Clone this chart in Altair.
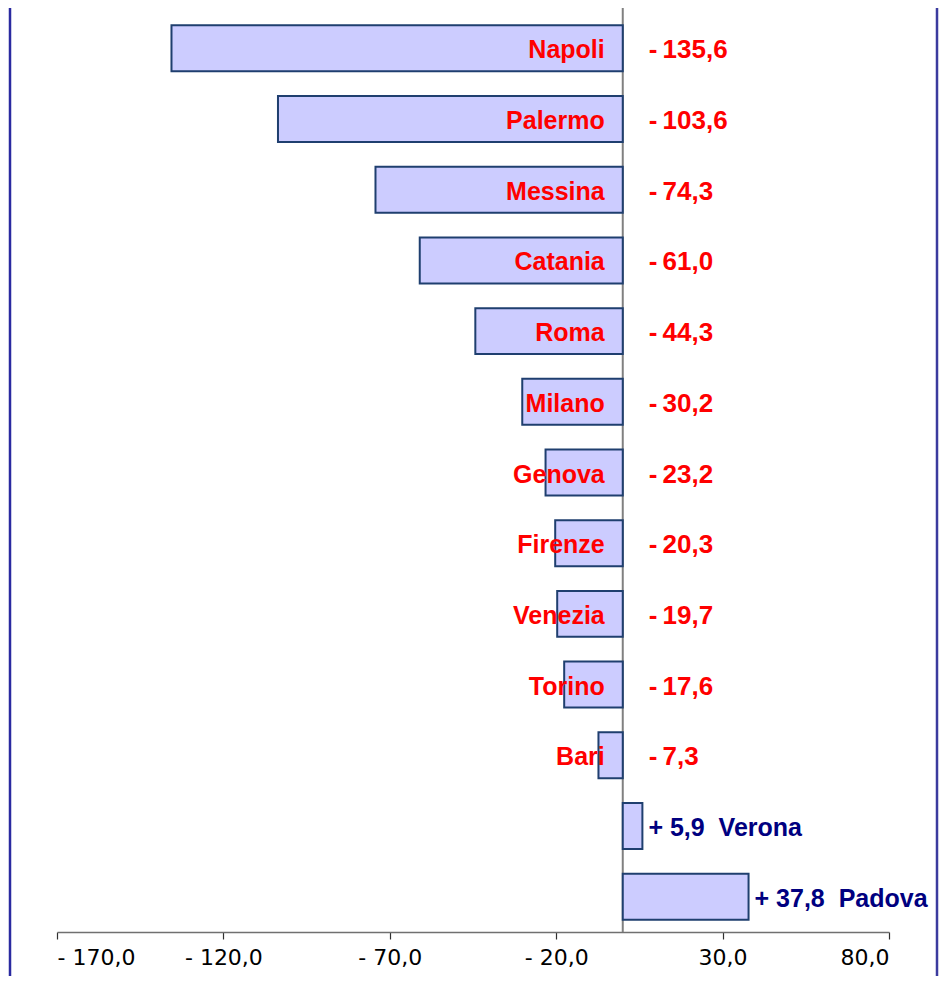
import altair as alt
import pandas as pd

cities = ["Napoli", "Palermo", "Messina", "Catania", "Roma", "Milano", "Genova",
          "Firenze", "Venezia", "Torino", "Bari", "Verona", "Padova"]
values = [-135.6, -103.6, -74.3, -61.0, -44.3, -30.2, -23.2, -20.3, -19.7, -17.6, -7.3, 5.9, 37.8]
x_ticks = [-170, -120, -70, -20, 30, 80]


def num(v):
    return f"{abs(v):.1f}".replace(".", ",")


neg_labels = [("-\u2009" + num(v)) if v < 0 else "" for v in values]
pos_labels = [(f"+\u00a0{num(v)}\u00a0\u00a0{c}") if v > 0 else "" for c, v in zip(cities, values)]

df = pd.DataFrame({"city": cities, "value": values,
                   "neg_label": neg_labels, "pos_label": pos_labels})

W, H = 832, 919

x_scale = alt.Scale(domain=[-170, 80], nice=False, zero=False)
y_enc = alt.Y("city:N", sort=None, axis=None,
              scale=alt.Scale(paddingInner=0.35, paddingOuter=0.175))

base = alt.Chart(df)

zero_line = alt.Chart(pd.DataFrame({"z": [0]})).mark_rule(color="#808080", strokeWidth=2).encode(
    x=alt.X("z:Q", scale=x_scale),
    y=alt.value(-6),
    y2=alt.value(H),
)

border_l = alt.Chart(pd.DataFrame({"b": [0]})).mark_rule(color="#2a2aa0", strokeWidth=2.5).encode(
    x=alt.value(-47),
    y=alt.value(-6),
    y2=alt.value(H + 50),
)
border_r = alt.Chart(pd.DataFrame({"b": [0]})).mark_rule(color="#3b3b9e", strokeWidth=2.5).encode(
    x=alt.value(880),
    y=alt.value(-6),
    y2=alt.value(H + 50),
)

bars = base.mark_bar(fill="#CCCCFF", stroke="#1F3F6F", strokeWidth=2).encode(
    x=alt.X("value:Q", scale=x_scale,
            axis=alt.Axis(values=x_ticks, title=None, grid=False,
                          domainColor="#707070", domainWidth=1.5,
                          tickColor="#303030", tickSize=7, tickWidth=1.2,
                          labelFont="DejaVu Sans", labelFontSize=22, labelColor="#000000",
                          labelPadding=8,
                          labelExpr="datum.value < 0 ? '- ' + replace(format(abs(datum.value), '.1f'), '.', ',') : replace(format(datum.value, '.1f'), '.', ',')")),
    x2=alt.datum(0),
    y=y_enc,
)

neg = base.transform_filter("datum.value < 0")

names = neg.mark_text(align="right", baseline="middle", dx=-18, dy=2, font="Liberation Sans",
                      fontSize=25, fontWeight="bold", color="#FF0000").encode(
    x=alt.datum(0), y=y_enc, text="city:N")

vals = neg.mark_text(align="left", baseline="middle", dx=26, dy=2, font="Liberation Sans",
                     fontSize=26, fontWeight="bold", color="#FF0000").encode(
    x=alt.datum(0), y=y_enc, text="neg_label:N")

pos = base.transform_filter("datum.value > 0").mark_text(
    align="left", baseline="middle", dx=6, dy=2, font="Liberation Sans",
    fontSize=25, fontWeight="bold", color="#000080").encode(
    x=alt.X("value:Q", scale=x_scale), y=y_enc, text="pos_label:N")

chart = alt.layer(zero_line, bars, names, vals, pos, border_l, border_r).properties(
    width=W, height=H,
    autosize=alt.AutoSizeParams(type="none"),
    padding={"left": 49, "top": 5, "right": 50, "bottom": 44},
).configure(background="white").configure_view(stroke="transparent", strokeWidth=0)

chart.save("out.html", embed_options={"renderer": "svg", "actions": False})
